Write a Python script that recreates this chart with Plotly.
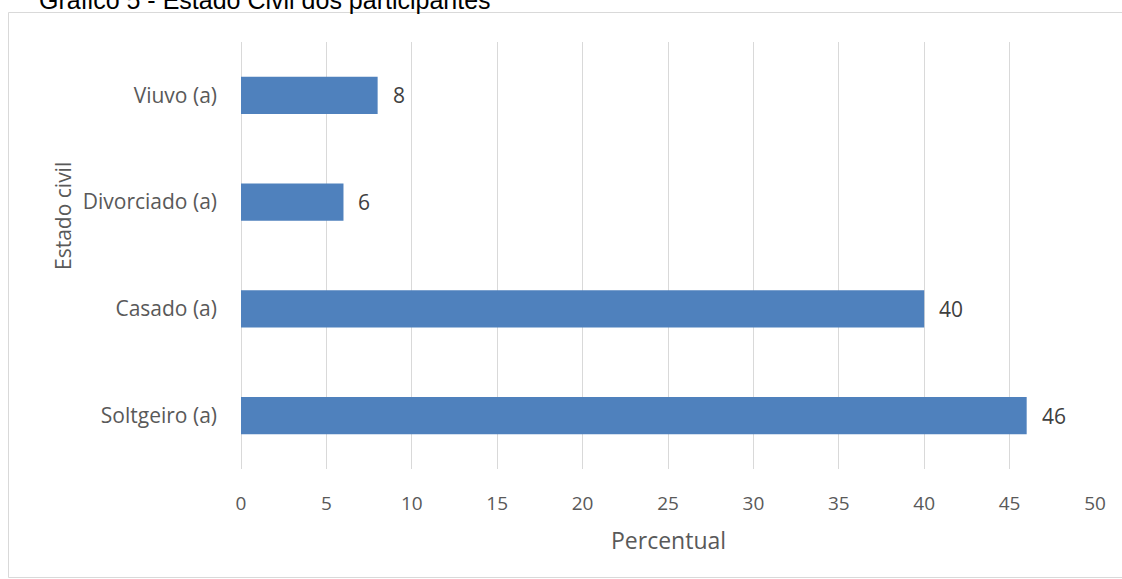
import plotly.graph_objects as go

# ---- data ----
categories = ["Soltgeiro (a)", "Casado (a)", "Divorciado (a)", "Viuvo (a)"]
values = [46, 40, 6, 8]
x_ticks = [0, 5, 10, 15, 20, 25, 30, 35, 40, 45, 50]
title_text = "Gráfico 5 - Estado Civil dos participantes"
x_title = "Percentual"
y_title = "Estado civil"

# ---- layout geometry (pixels) ----
W, H = 1122, 579
ML, MR, MT, MB = 241, 27, 42, 110
PW, PH = W - ML - MR, H - MT - MB


def px_x(px):
    return (px - ML) / PW


def px_y(py):
    return (H - MB - py) / PH


BAR = "#4f81bd"
GRID = "#d9d9d9"
TXT = "#595959"
FONT = "Open Sans"

fig = go.Figure()
fig.add_trace(go.Bar(
    x=values, y=categories, orientation="h",
    marker=dict(color=BAR, line=dict(width=0)),
    width=0.35, hoverinfo="skip",
))

annotations = []
for c, v in zip(categories, values):
    annotations.append(dict(
        x=v, y=c, xref="x", yref="y", text=str(v), showarrow=False,
        xanchor="left", yanchor="middle", xshift=13,
        font=dict(family=FONT, size=21, color="#404040"),
    ))

annotations.append(dict(
    x=px_x(37), y=px_y(16), xref="paper", yref="paper", text=title_text,
    showarrow=False, xanchor="left", yanchor="bottom",
    font=dict(family="Liberation Sans", size=25, color="#000000"),
))
annotations.append(dict(
    x=px_x(63), y=px_y(216), xref="paper", yref="paper", text=y_title,
    showarrow=False, textangle=-90, xanchor="center", yanchor="middle",
    font=dict(family=FONT, size=21, color=TXT),
))
annotations.append(dict(
    x=px_x(668), y=px_y(540), xref="paper", yref="paper", text=x_title,
    showarrow=False, xanchor="center", yanchor="middle",
    font=dict(family=FONT, size=23, color=TXT),
))

fig.update_layout(
    width=W, height=H,
    margin=dict(l=ML, r=MR, t=MT, b=MB, pad=0),
    paper_bgcolor="white", plot_bgcolor="white",
    showlegend=False,
    annotations=annotations,
    shapes=[dict(
        type="rect", xref="paper", yref="paper",
        x0=px_x(8.5), x1=px_x(1135), y0=px_y(577.5), y1=px_y(12.5),
        line=dict(color=GRID, width=1), fillcolor="rgba(0,0,0,0)", layer="below",
    )],
    xaxis=dict(
        range=[0, 50], tickvals=x_ticks, showgrid=True, gridcolor=GRID, gridwidth=1,
        zeroline=True, zerolinecolor=GRID, zerolinewidth=1, showline=False,
        ticks="", ticklabelstandoff=21,
        tickfont=dict(family=FONT, size=19, color=TXT),
    ),
    yaxis=dict(
        categoryorder="array", categoryarray=categories,
        showgrid=False, zeroline=False, showline=False, ticks="",
        ticklabelstandoff=23,
        tickfont=dict(family=FONT, size=21, color=TXT),
    ),
)

fig.write_html("out.html")
